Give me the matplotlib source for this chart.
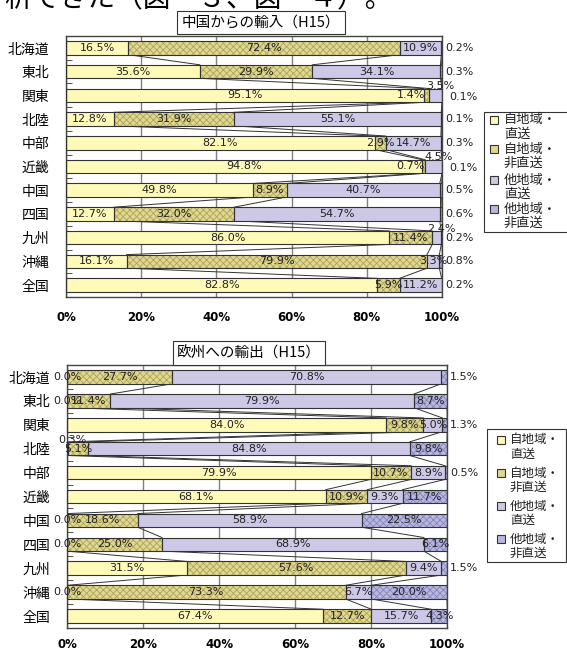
import matplotlib
matplotlib.use('Agg')
import matplotlib.pyplot as plt
from matplotlib.patches import Rectangle
import numpy as np

plt.rcParams['font.family'] = ['Noto Sans CJK JP', 'DejaVu Sans']
plt.rcParams['hatch.linewidth'] = 0.6

W, H = 567, 652

regions = ['北海道', '東北', '関東', '北陸', '中部', '近畿', '中国', '四国', '九州', '沖縄', '全国']
series_names = ['自地域・\n直送', '自地域・\n非直送', '他地域・\n直送', '他地域・\n非直送']
xtick_vals = [0, 20, 40, 60, 80, 100]

# 中国からの輸入(H15)
imp_own_direct = [16.5, 35.6, 95.1, 12.8, 82.1, 94.8, 49.8, 12.7, 86.0, 16.1, 82.8]
imp_own_indirect = [72.4, 29.9, 1.4, 31.9, 2.9, 0.7, 8.9, 32.0, 11.4, 79.9, 5.9]
imp_oth_direct = [10.9, 34.1, 3.5, 55.1, 14.7, 4.5, 40.7, 54.7, 2.4, 3.3, 11.2]
imp_oth_indirect = [0.2, 0.3, 0.1, 0.1, 0.3, 0.1, 0.5, 0.6, 0.2, 0.8, 0.2]

# 欧州への輸出(H15)
exp_own_direct = [0.0, 0.0, 84.0, 0.3, 79.9, 68.1, 0.0, 0.0, 31.5, 0.0, 67.4]
exp_own_indirect = [27.7, 11.4, 9.8, 5.1, 10.7, 10.9, 18.6, 25.0, 57.6, 73.3, 12.7]
exp_oth_direct = [70.8, 79.9, 5.0, 84.8, 8.9, 9.3, 58.9, 68.9, 9.4, 6.7, 15.7]
exp_oth_indirect = [1.5, 8.7, 1.3, 9.8, 0.5, 11.7, 22.5, 6.1, 1.5, 20.0, 4.3]

faces = ['#FFFAB8', '#E0D890', '#CCC8E6', '#B8B8DE']
hatches = [None, 'xxxxx', None, 'xxxxx']
hatch_cols = ['none', '#ACA45A', 'none', '#8484C0']
edge = '#333333'
bar_h = 0.57

# ラベル位置の手直し（Excelで手で動かしたもの）
imp_modes = {('関東', 2): 'above', ('近畿', 2): 'above', ('九州', 2): 'above',
             ('関東', 1): 'left', ('近畿', 1): 'left',
             ('関東', 3): 'right_low', ('近畿', 3): 'right_low'}
exp_modes = {('北陸', 0): 'above'}


def fx(x):
    return x / W


def fy(y):
    return 1 - y / H


def draw_chart(ax, values, modes, xpad):
    n = len(regions)
    y = np.arange(n)
    vals = np.array(values)
    cum = np.cumsum(vals, axis=0)
    for k in range(4):
        left = cum[k] - vals[k]
        ax.barh(y, vals[k], left=left, height=bar_h, color=faces[k],
                edgecolor=hatch_cols[k], hatch=hatches[k], linewidth=0, zorder=2)
        ax.barh(y, vals[k], left=left, height=bar_h, fill=False,
                edgecolor=edge, linewidth=0.8, zorder=3)
    # 系列線
    for k in range(4):
        for i in range(n - 1):
            ax.plot([cum[k, i], cum[k, i + 1]], [y[i] + bar_h / 2, y[i + 1] - bar_h / 2],
                    color=edge, lw=0.7, zorder=1.5)
    # データラベル
    for k in range(4):
        for i in range(n):
            v = vals[k, i]
            start = cum[k, i] - v
            mode = modes.get((regions[i], k))
            if mode is None:
                mode = 'right' if (k == 3 and v < 2) else 'center'
            txt = f'{v:.1f}%'
            kw = dict(textcoords='offset pixels', fontsize=8, family='DejaVu Sans',
                      color='#222222', va='center', annotation_clip=False, zorder=5)
            if mode == 'center':
                ax.annotate(txt, (start + v / 2, y[i]), xytext=(0, 0), ha='center', **kw)
            elif mode == 'above':
                ax.annotate(txt, (start + v / 2, y[i]), xytext=(5, 9), ha='center', **kw)
            elif mode == 'left':
                ax.annotate(txt, (start, y[i]), xytext=(2, 0), ha='right', **kw)
            elif mode == 'right':
                ax.annotate(txt, (100, y[i]), xytext=(3, 0), ha='left', **kw)
            elif mode == 'right_low':
                ax.annotate(txt, (100, y[i]), xytext=(7, -2), ha='left', **kw)

    ax.set_xlim(0, 100)
    ax.set_ylim(n - 0.5, -0.5)
    ax.set_xticks(xtick_vals)
    ax.set_xticklabels([f'{t}%' for t in xtick_vals], family='DejaVu Sans',
                       fontweight='bold', fontsize=8.5)
    ax.set_yticks(y)
    ax.set_yticklabels(regions, fontsize=10)
    ax.set_yticks(y[:-1] + 0.5, minor=True)
    ax.tick_params(axis='x', length=0, pad=xpad)
    ax.tick_params(axis='y', which='major', length=0, pad=12)
    ax.tick_params(axis='y', which='minor', direction='in', length=4, color=edge)
    ax.xaxis.grid(True, color='#808080', lw=1.0)
    ax.set_axisbelow(True)
    for s in ax.spines.values():
        s.set_color('#444444')
        s.set_linewidth(1.0)


def draw_legend(fig, box, first_lines, line_gap, square_x, text_x, fontsize):
    x0, y0, x1, y1 = box
    fig.add_artist(Rectangle((fx(x0), fy(y1)), (x1 - x0) / W, (y1 - y0) / H,
                             transform=fig.transFigure, fc='white', ec=edge, lw=0.8))
    for k, yy in enumerate(first_lines):
        fig.add_artist(Rectangle((fx(square_x), fy(yy + 4)), 8 / W, 8 / H,
                                 transform=fig.transFigure, fc=faces[k], ec=edge, lw=0.8))
        for j, line in enumerate(series_names[k].split('\n')):
            fig.text(fx(text_x), fy(yy + j * line_gap), line, fontsize=fontsize,
                     ha='left', va='center', color='#222222')


fig = plt.figure(figsize=(W / 100, H / 100), dpi=100)

fig.text(fx(4), fy(7), '析できた（図－３、図－４）。', fontsize=20, va='baseline', ha='left')

ax1 = fig.add_axes([fx(66), fy(297), 376 / W, 261 / H])
draw_chart(ax1, [imp_own_direct, imp_own_indirect, imp_oth_direct, imp_oth_indirect], imp_modes, 10)
ax2 = fig.add_axes([fx(67), fy(628), 380 / W, 263 / H])
draw_chart(ax2, [exp_own_direct, exp_own_indirect, exp_oth_direct, exp_oth_indirect], exp_modes, 7)

box = dict(boxstyle='square,pad=0.3', fc='white', ec=edge, lw=0.8)
fig.text(fx(261), fy(22.5), '中国からの輸入（H15）', ha='center', va='center', fontsize=10.5, bbox=box)
fig.text(fx(249), fy(353), '欧州への輸出（H15）', ha='center', va='center', fontsize=10.5, bbox=box)

draw_legend(fig, (484, 112, 580, 232), [120, 149, 180, 209], 14, 490, 504, 9.5)
draw_legend(fig, (487, 429, 566, 562), [440, 473, 506, 539], 14, 497, 510, 9)

fig.savefig('out.png', dpi=100)
